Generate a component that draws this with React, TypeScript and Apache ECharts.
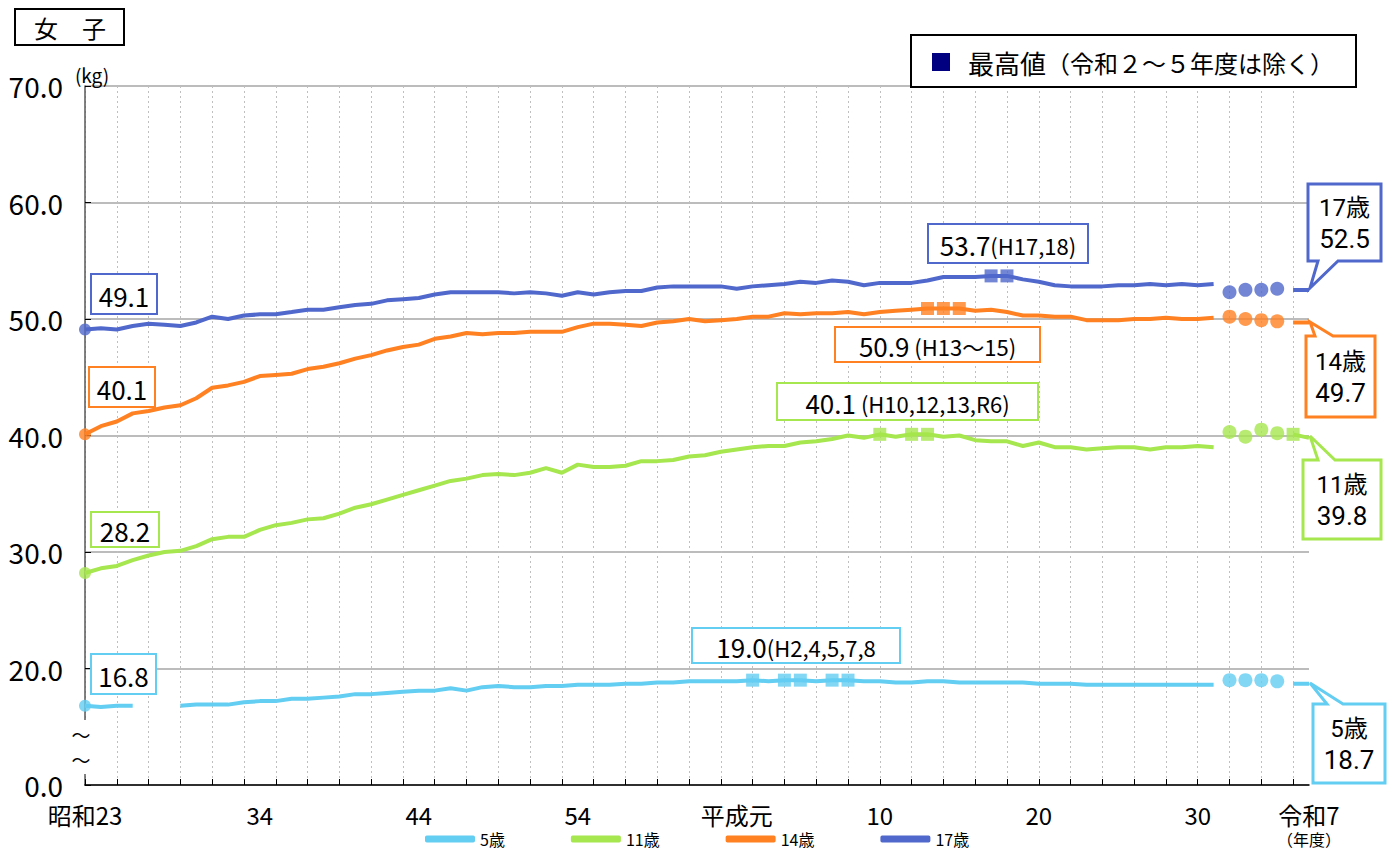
import React, { useEffect, useRef } from "react";
import * as echarts from "echarts";

const FONT = '"Noto Sans CJK JP", "Noto Sans", sans-serif';
const NUMFONT = 'Roboto, "Noto Sans CJK JP", sans-serif';

// fiscal years 昭和23 (1948) .. 令和7 (2025)
const years = [
  1948, 1949, 1950, 1951, 1952, 1953, 1954, 1955, 1956, 1957,
  1958, 1959, 1960, 1961, 1962, 1963, 1964, 1965, 1966, 1967,
  1968, 1969, 1970, 1971, 1972, 1973, 1974, 1975, 1976, 1977,
  1978, 1979, 1980, 1981, 1982, 1983, 1984, 1985, 1986, 1987,
  1988, 1989, 1990, 1991, 1992, 1993, 1994, 1995, 1996, 1997,
  1998, 1999, 2000, 2001, 2002, 2003, 2004, 2005, 2006, 2007,
  2008, 2009, 2010, 2011, 2012, 2013, 2014, 2015, 2016, 2017,
  2018, 2019, 2020, 2021, 2022, 2023, 2024, 2025,
];

const xTickYears = [1948, 1959, 1969, 1979, 1989, 1998, 2008, 2018, 2025];
const xTickLabels = ["昭和23", "34", "44", "54", "平成元", "10", "20", "30", "令和7"];
const yTickValues = [10, 20, 30, 40, 50, 60, 70];
const yTickLabels = ["0.0", "20.0", "30.0", "40.0", "50.0", "60.0", "70.0"];
const excludedYears = [2020, 2021, 2022, 2023]; // 令和2〜5 (shown as dots)

const seriesNames = ["5歳", "11歳", "14歳", "17歳"];
const seriesColors = ["#63CDF2", "#A6E64E", "#FF8122", "#5068CC"];

const age5 = [
  16.8, 16.7, 16.8, 16.8, null, null, 16.8, 16.9, 16.9, 16.9,
  17.1, 17.2, 17.2, 17.4, 17.4, 17.5, 17.6, 17.8, 17.8, 17.9,
  18.0, 18.1, 18.1, 18.3, 18.1, 18.4, 18.5, 18.4, 18.4, 18.5,
  18.5, 18.6, 18.6, 18.6, 18.7, 18.7, 18.8, 18.8, 18.9, 18.9,
  18.9, 18.9, 19.0, 18.9, 19.0, 19.0, 18.9, 19.0, 19.0, 18.9,
  18.9, 18.8, 18.8, 18.9, 18.9, 18.8, 18.8, 18.8, 18.8, 18.8,
  18.7, 18.7, 18.7, 18.6, 18.6, 18.6, 18.6, 18.6, 18.6, 18.6,
  18.6, 18.6, 19.0, 19.0, 19.0, 18.9, 18.7, 18.7,
];
const age11 = [
  28.2, 28.6, 28.8, 29.3, 29.7, 30.0, 30.1, 30.5, 31.1, 31.3,
  31.3, 31.9, 32.3, 32.5, 32.8, 32.9, 33.3, 33.8, 34.1, 34.5,
  34.9, 35.3, 35.7, 36.1, 36.3, 36.6, 36.7, 36.6, 36.8, 37.2,
  36.8, 37.5, 37.3, 37.3, 37.4, 37.8, 37.8, 37.9, 38.2, 38.3,
  38.6, 38.8, 39.0, 39.1, 39.1, 39.4, 39.5, 39.7, 40.0, 39.8,
  40.1, 39.9, 40.1, 40.1, 39.9, 40.0, 39.6, 39.5, 39.5, 39.1,
  39.4, 39.0, 39.0, 38.8, 38.9, 39.0, 39.0, 38.8, 39.0, 39.0,
  39.1, 39.0, 40.3, 39.9, 40.5, 40.2, 40.1, 39.8,
];
const age14 = [
  40.1, 40.8, 41.2, 41.9, 42.1, 42.4, 42.6, 43.2, 44.1, 44.3,
  44.6, 45.1, 45.2, 45.3, 45.7, 45.9, 46.2, 46.6, 46.9, 47.3,
  47.6, 47.8, 48.3, 48.5, 48.8, 48.7, 48.8, 48.8, 48.9, 48.9,
  48.9, 49.3, 49.6, 49.6, 49.5, 49.4, 49.7, 49.8, 50.0, 49.8,
  49.9, 50.0, 50.2, 50.2, 50.5, 50.4, 50.5, 50.5, 50.6, 50.4,
  50.6, 50.7, 50.8, 50.9, 50.9, 50.9, 50.7, 50.8, 50.6, 50.3,
  50.3, 50.2, 50.2, 49.9, 49.9, 49.9, 50.0, 50.0, 50.1, 50.0,
  50.0, 50.1, 50.2, 50.0, 49.9, 49.8, 49.7, 49.7,
];
const age17 = [
  49.1, 49.2, 49.1, 49.4, 49.6, 49.5, 49.4, 49.7, 50.2, 50.0,
  50.3, 50.4, 50.4, 50.6, 50.8, 50.8, 51.0, 51.2, 51.3, 51.6,
  51.7, 51.8, 52.1, 52.3, 52.3, 52.3, 52.3, 52.2, 52.3, 52.2,
  52.0, 52.3, 52.1, 52.3, 52.4, 52.4, 52.7, 52.8, 52.8, 52.8,
  52.8, 52.6, 52.8, 52.9, 53.0, 53.2, 53.1, 53.3, 53.2, 52.9,
  53.1, 53.1, 53.1, 53.3, 53.6, 53.6, 53.6, 53.7, 53.7, 53.4,
  53.2, 52.9, 52.8, 52.8, 52.8, 52.9, 52.9, 53.0, 52.9, 53.0,
  52.9, 53.0, 52.3, 52.5, 52.5, 52.6, 52.5, 52.5,
];

const startLabels = ["16.8", "28.2", "40.1", "49.1"];
const maxLabelMain = ["19.0", "40.1", "50.9", "53.7"];
const maxLabelYears = ["(H2,4,5,7,8", " (H10,12,13,R6)", " (H13～15)", "(H17,18)"];
const endLabels = ["18.7", "39.8", "49.7", "52.5"];

const allSeries = [age5, age11, age14, age17];

function isExcluded(i: number) {
  return excludedYears.includes(years[i]);
}

function buildSeries() {
  const out: any[] = [];
  allSeries.forEach((arr, k) => {
    const color = seriesColors[k];
    const lineData = arr.map((v, i) => (isExcluded(i) || v === null ? null : v));
    out.push({
      name: seriesNames[k],
      type: "line",
      data: lineData,
      symbol: "none",
      connectNulls: false,
      lineStyle: { width: 4, color },
      itemStyle: { color },
      z: 3,
    });
    const dotData = arr.map((v, i) => {
      if (i === 0) return { value: v, symbolSize: 12 };
      if (isExcluded(i)) return { value: v, symbolSize: 14 };
      return null;
    });
    out.push({
      name: seriesNames[k] + "点",
      type: "scatter",
      data: dotData,
      symbol: "circle",
      itemStyle: { color },
      z: 4,
    });
    const valid = arr.filter((v, i) => v !== null && !isExcluded(i)) as number[];
    const mx = Math.max(...valid);
    const maxData = arr.map((v, i) => (v !== null && !isExcluded(i) && v === mx ? v : null));
    out.push({
      name: seriesNames[k] + "最高",
      type: "scatter",
      data: maxData,
      symbol: "rect",
      symbolSize: 13,
      itemStyle: { color },
      z: 5,
    });
  });
  return out;
}

function txt(x: number, y: number, text: string, size: number, extra: any = {}) {
  return {
    type: "text",
    x,
    y,
    z: 120,
    style: {
      text,
      fill: "#000",
      fontSize: size,
      fontFamily: FONT,
      align: "center",
      textAlign: "center",
      verticalAlign: "middle",
      textVerticalAlign: "middle",
      ...extra,
    },
  };
}

function rect(x: number, y: number, w: number, h: number, stroke: string, lw: number) {
  return {
    type: "rect",
    z: 110,
    shape: { x, y, width: w, height: h },
    style: { fill: "#fff", stroke, lineWidth: lw },
  };
}

function callout(box: number[], tip: number[], base: number[], side: string, color: string) {
  const [x, y, w, h] = box;
  let pts: number[][];
  if (side === "bottom") {
    pts = [[x, y], [x + w, y], [x + w, y + h], [base[1], y + h], tip, [base[0], y + h], [x, y + h]];
  } else {
    pts = [[x, y], [base[0], y], tip, [base[1], y], [x + w, y], [x + w, y + h], [x, y + h]];
  }
  return {
    type: "polygon",
    z: 110,
    shape: { points: pts },
    style: { fill: "#fff", stroke: color, lineWidth: 3, lineJoin: "miter" },
  };
}

function buildGraphics() {
  const g: any[] = [];
  // title box
  g.push(rect(15, 9, 109, 36, "#000", 2));
  g.push(txt(70, 27, "女　子", 24));
  // legend box for max
  g.push(rect(911, 35, 445, 52, "#000", 2));
  g.push({ type: "rect", z: 120, shape: { x: 932, y: 53, width: 18, height: 18 }, style: { fill: "#000080" } });
  g.push(
    txt(968, 62, "{a|最高値}{b|（令和２～５年度は除く）}", 24, {
      align: "left",
      textAlign: "left",
      rich: {
        a: { fontSize: 26, fontFamily: FONT, fill: "#000" },
        b: { fontSize: 24, fontFamily: FONT, fill: "#000" },
      },
    })
  );
  // unit
  g.push(txt(92, 74, "(kg)", 19));
  // axis break
  g.push({ type: "rect", z: 115, shape: { x: 78, y: 720, width: 14, height: 54 }, style: { fill: "#fff" } });
  g.push(txt(81, 734, "～", 19));
  g.push(txt(81, 759, "～", 19));

  // start labels [5,11,14,17]
  const startBoxes = [
    [91, 654, 65, 40],
    [91, 512, 68, 35],
    [89, 367, 66, 40],
    [91, 274, 66, 40],
  ];
  startBoxes.forEach((b, k) => {
    g.push(rect(b[0], b[1], b[2], b[3], seriesColors[k], 2));
    g.push(txt(b[0] + b[2] / 2, b[1] + b[3] / 2 + 1, startLabels[k], 26));
  });

  // max labels
  const maxBoxes = [
    [692, 628, 208, 35],
    [777, 383, 261, 37],
    [835, 327, 205, 35],
    [928, 224, 160, 39],
  ];
  maxBoxes.forEach((b, k) => {
    g.push(rect(b[0], b[1], b[2], b[3], seriesColors[k], 2));
    g.push(
      txt(b[0] + b[2] / 2, b[1] + b[3] / 2 + 1, "{a|" + maxLabelMain[k] + "}{b|" + maxLabelYears[k] + "}", 26, {
        rich: {
          a: { fontSize: 26, fontFamily: FONT, fill: "#000" },
          b: { fontSize: 22, fontFamily: FONT, fill: "#000" },
        },
      })
    );
  });

  // end callouts
  const endDefs = [
    { box: [1313, 704, 72, 79], tip: [1310, 683], base: [1327, 1343], side: "top" },
    { box: [1303, 460, 78, 79], tip: [1310, 436], base: [1318, 1335], side: "top" },
    { box: [1306, 336, 69, 81], tip: [1310, 322], base: [1315, 1333], side: "top" },
    { box: [1308, 184, 73, 77], tip: [1310, 288], base: [1318, 1338], side: "bottom" },
  ];
  endDefs.forEach((d, k) => {
    g.push(callout(d.box, d.tip, d.base, d.side, seriesColors[k]));
    const cx = d.box[0] + d.box[2] / 2;
    const cy = d.box[1] + d.box[3] / 2;
    g.push(txt(cx, cy - 15, seriesNames[k], 24, { fontFamily: NUMFONT }));
    g.push(txt(cx, cy + 16, endLabels[k], 26, { fontFamily: NUMFONT }));
  });
  return g;
}

export default function App() {
  const ref = useRef<HTMLDivElement>(null);
  useEffect(() => {
    const chart = echarts.init(ref.current!, null, { renderer: "svg" });
    const option: any = {
      animation: false,
      backgroundColor: "#fff",
      textStyle: { fontFamily: FONT },
      grid: { left: 85, right: 91, top: 86, bottom: 67, containLabel: false },
      legend: {
        data: seriesNames,
        left: 425,
        top: 830,
        padding: 0,
        icon: "roundRect",
        itemWidth: 50,
        itemHeight: 7,
        itemGap: 66,
        textStyle: { fontSize: 16, color: "#000", fontFamily: FONT, lineHeight: 18 },
        selectedMode: false,
      },
      xAxis: {
        type: "category",
        data: years.map(String),
        boundaryGap: false,
        axisLine: { lineStyle: { color: "#000", width: 1.5 } },
        axisTick: { inside: true, length: 6, interval: 1, lineStyle: { color: "#000" } },
        axisLabel: {
          interval: (_i: number, v: string) => xTickYears.includes(Number(v)),
          formatter: (v: string) => {
            const k = xTickYears.indexOf(Number(v));
            if (k < 0) return "";
            if (k === xTickLabels.length - 1) return "{a|" + xTickLabels[k] + "}\n{u|（年度）}";
            return "{a|" + xTickLabels[k] + "}";
          },
          margin: 15,
          rich: {
            a: { fontSize: 24, fontFamily: FONT, color: "#000", lineHeight: 28 },
            u: { fontSize: 16, fontFamily: FONT, color: "#000", lineHeight: 22 },
          },
        },
        splitLine: { show: true, interval: 1, lineStyle: { color: "#BFBFBF", type: [2, 3], width: 1 } },
      },
      yAxis: {
        type: "value",
        min: 10,
        max: 70,
        interval: 10,
        axisLine: { show: true, lineStyle: { color: "#595959", width: 1.5 } },
        axisTick: { show: true, inside: true, length: 6, lineStyle: { color: "#000" } },
        axisLabel: {
          formatter: (v: number) => {
            const k = yTickValues.indexOf(v);
            return k >= 0 ? yTickLabels[k] : "";
          },
          fontSize: 28,
          color: "#000",
          fontFamily: FONT,
          margin: 22,
        },
        splitLine: { lineStyle: { color: "#A6A6A6", width: 1.5 } },
      },
      series: buildSeries(),
      graphic: { elements: buildGraphics() },
    };
    chart.setOption(option);
    return () => chart.dispose();
  }, []);
  return (
    <div
      ref={ref}
      style={{ position: "absolute", left: 0, top: 0, width: 1400, height: 852, background: "#fff" }}
    />
  );
}
